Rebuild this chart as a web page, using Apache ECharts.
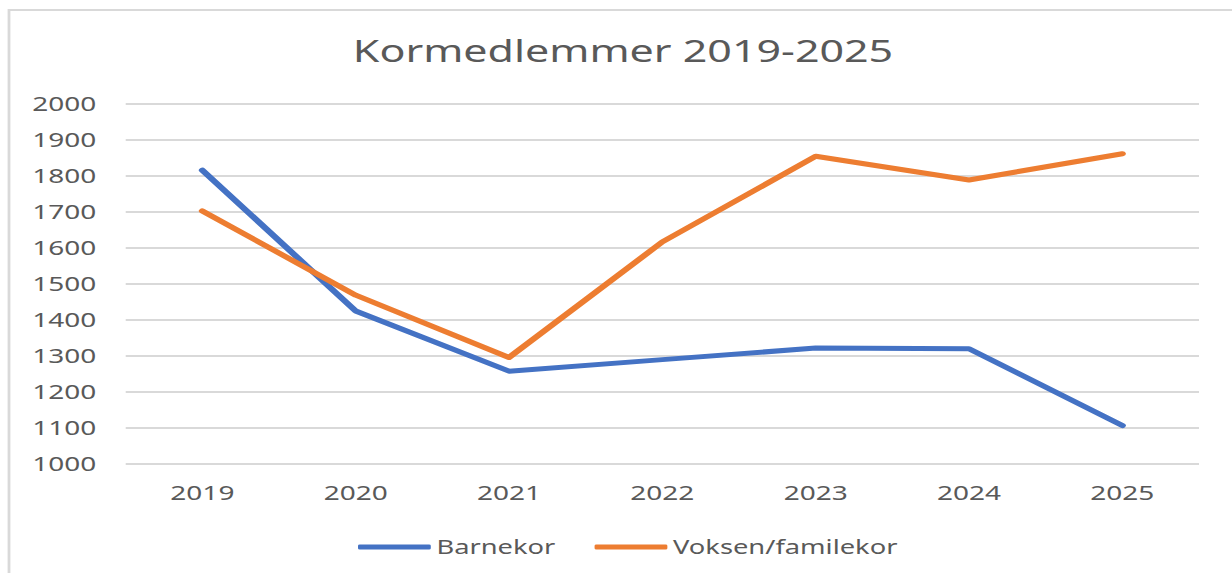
<!DOCTYPE html>
<html>
<head>
<meta charset="utf-8">
<script src="https://cdn.jsdelivr.net/npm/echarts@6/dist/echarts.min.js"></script>
<style>
html,body{margin:0;padding:0;background:#fff;overflow:hidden;}
#wrap{width:1232px;height:573px;overflow:hidden;position:relative;}
#chart{width:880px;height:573px;transform:scaleX(1.4);transform-origin:0 0;position:absolute;left:0;top:0;}
</style>
</head>
<body>
<div id="wrap"><div id="chart"></div></div>
<script>
const categories = ['2019','2020','2021','2022','2023','2024','2025'];
const barnekor = [1814, 1423, 1256, 1288, 1320, 1318, 1105];
const voksen = [1701, 1467, 1294, 1615, 1853, 1787, 1860];
const seriesNames = ['Barnekor', 'Voksen/familekor'];
const titleText = 'Kormedlemmer 2019-2025';

const S = 1.4;
const font = 'Noto Sans';
const chart = echarts.init(document.getElementById('chart'), null, {renderer: 'svg'});
chart.setOption({
  animation: false,
  color: ['#4472C4', '#ED7D31'],
  title: {
    text: titleText,
    left: 616 / S,
    textAlign: 'center',
    top: 30,
    textStyle: {fontFamily: font, fontSize: 30.7, fontWeight: 'normal', color: '#595959'}
  },
  graphic: [{
    type: 'rect',
    shape: {x: 9 / S, y: 10, width: 2000, height: 1000},
    style: {fill: 'none', stroke: '#d9d9d9', lineWidth: 2}
  }],
  legend: {
    data: seriesNames,
    left: 351 / S,
    top: 532,
    itemWidth: 52,
    itemHeight: 5,
    itemGap: 28,
    icon: 'roundRect',
    textStyle: {fontFamily: font, fontSize: 19.5, color: '#595959', padding: [0, 0, 0, -1]}
  },
  grid: {left: 125.7 / S, right: 880 - 1199 / S, top: 103.3, bottom: 573 - 463.3, containLabel: false},
  xAxis: {
    type: 'category',
    data: categories,
    boundaryGap: true,
    axisLine: {show: false},
    axisTick: {show: false},
    axisLabel: {fontFamily: font, fontSize: 20, color: '#595959', margin: 19}
  },
  yAxis: {
    type: 'value',
    min: 1000,
    max: 2000,
    interval: 100,
    axisLine: {show: false},
    axisTick: {show: false},
    axisLabel: {fontFamily: font, fontSize: 20, color: '#595959', margin: 21, formatter: v => String(v)},
    splitLine: {lineStyle: {color: '#d9d9d9', width: 2}}
  },
  series: [
    {name: seriesNames[0], type: 'line', data: barnekor, symbol: 'none',
     lineStyle: {width: 5, cap: 'round', join: 'round'}},
    {name: seriesNames[1], type: 'line', data: voksen, symbol: 'none',
     lineStyle: {width: 5, cap: 'round', join: 'round'}}
  ]
});
</script>
</body>
</html>
